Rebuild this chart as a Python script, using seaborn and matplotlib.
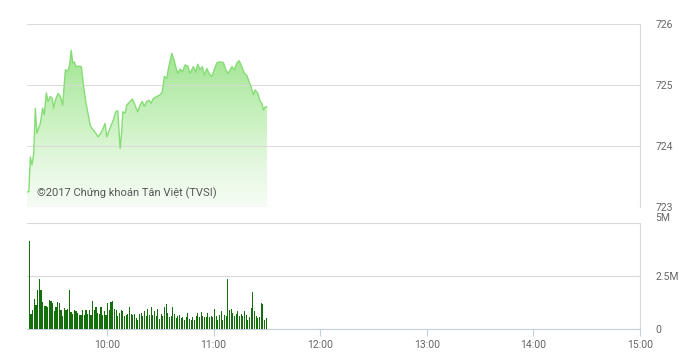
import numpy as np
import pandas as pd
import matplotlib
matplotlib.use("Agg")
import matplotlib.pyplot as plt
import seaborn as sns
from matplotlib.colors import LinearSegmentedColormap

# ---------------- data ----------------
# price line: minutes after 09:15 and index value
price_minutes = [0, 1.0, 1.9, 2.8, 3.8, 4.7, 5.6, 7.5, 8.8, 9.7, 10.9, 11.8, 13.1, 14.1, 15.0,
                 15.9, 17.5, 18.8, 20.1, 21.6, 23.1, 24.0, 24.9, 25.7, 26.6, 27.6, 29.4, 30.6,
                 31.9, 33.2, 34.7, 35.6, 37.6, 38.9, 40.0, 41.3, 42.6, 43.9, 44.9, 46.7, 48.6,
                 49.9, 51.1, 52.4, 53.3, 53.9, 55.2, 56.1, 58.0, 59.3, 60.8, 62.3, 63.6, 64.9,
                 66.0, 67.4, 68.7, 69.8, 71.1, 73.0, 74.9, 76.2, 77.3, 78.7, 79.6, 81.5, 82.8,
                 83.7, 84.9, 86.1, 87.5, 89.0, 90.5, 91.8, 93.6, 95.0, 96.1, 97.4, 98.7, 99.8,
                 101.2, 102.5, 104.0, 105.5, 106.8, 108.1, 110.5, 111.9, 113.3, 115.3, 116.7,
                 118.1, 119.4, 120.9, 122.4, 123.7, 125.0, 126.1, 127.4, 128.4, 129.9, 131.2,
                 132.2, 133.1, 134.0, 135.1]
price_values = [723.25, 723.25, 723.82, 723.69, 723.88, 724.62, 724.21, 724.37, 724.62, 724.51,
                724.87, 724.73, 724.81, 724.79, 724.62, 724.75, 724.86, 724.81, 724.67, 725.25,
                725.23, 725.33, 725.57, 725.36, 725.38, 725.30, 725.31, 725.30, 724.97, 724.70,
                724.48, 724.33, 724.25, 724.20, 724.15, 724.20, 724.27, 724.37, 724.15, 724.29,
                724.43, 724.56, 724.58, 723.96, 724.23, 724.56, 724.54, 724.67, 724.73, 724.77,
                724.67, 724.56, 724.67, 724.73, 724.65, 724.73, 724.75, 724.70, 724.78, 724.81,
                724.84, 724.89, 725.14, 725.11, 725.27, 725.52, 725.41, 725.30, 725.19, 725.26,
                725.22, 725.33, 725.31, 725.19, 725.30, 725.21, 725.34, 725.25, 725.30, 725.16,
                725.27, 725.19, 725.14, 725.26, 725.36, 725.38, 725.37, 725.25, 725.19, 725.30,
                725.25, 725.36, 725.40, 725.30, 725.19, 725.16, 725.05, 724.97, 724.84, 724.92,
                724.86, 724.73, 724.70, 724.59, 724.64, 724.64]

# volume per bar (millions), in order from 09:16 to 11:30
volume_m = [4.13, 0.72, 0.88, 1.43, 1.15, 1.86, 2.36, 1.82, 1.26, 1.07, 1.10, 1.04, 1.38, 1.34,
            1.23, 0.83, 1.04, 1.26, 1.23, 0.91, 0.63, 0.99, 0.91, 0.94, 1.86, 0.79, 0.72, 0.91,
            0.83, 0.75, 0.68, 0.68, 0.88, 0.68, 0.88, 0.71, 0.91, 0.68, 1.31, 0.91, 1.04, 0.75,
            0.72, 1.04, 0.68, 0.83, 0.68, 1.23, 0.91, 1.26, 1.31, 0.94, 0.88, 0.60, 0.75, 0.88,
            0.83, 0.60, 0.68, 0.72, 1.04, 0.72, 0.68, 0.72, 0.52, 0.44, 0.72, 0.75, 0.63, 0.83,
            0.60, 0.94, 0.68, 1.04, 0.68, 0.83, 0.60, 0.94, 0.47, 0.72, 0.60, 1.04, 1.19, 0.75,
            0.57, 0.63, 1.04, 0.72, 0.52, 0.60, 0.68, 0.52, 0.57, 0.44, 0.57, 0.75, 0.47, 0.44,
            0.57, 0.44, 0.60, 0.75, 0.57, 0.79, 0.63, 0.57, 0.57, 0.75, 0.57, 0.63, 0.57, 0.94,
            0.63, 0.44, 0.68, 0.83, 0.44, 0.68, 0.63, 2.36, 0.91, 0.94, 0.75, 0.60, 0.72, 0.83,
            0.63, 0.72, 0.60, 0.83, 0.68, 0.44, 0.57, 0.99, 1.73, 0.83, 0.63, 0.52, 0.57, 1.23,
            1.19, 0.44, 0.52]

price_ticks = [723, 724, 725, 726]
price_tick_labels = ["723", "724", "725", "726"]
volume_ticks = [0, 2.5, 5]
volume_tick_labels = ["0", "2.5M", "5M"]
hour_ticks = [10, 11, 12, 13, 14, 15]
hour_tick_labels = ["10:00", "11:00", "12:00", "13:00", "14:00", "15:00"]
session_start_h = 9.25
session_end_h = 15.0
watermark = "©2017 Chứng khoán Tân Việt (TVSI)"

# ---------------- style ----------------
sns.set_theme(style="white")
plt.rcParams["font.family"] = ["Roboto", "DejaVu Sans"]

W, H = 696, 361
fig = plt.figure(figsize=(W / 100, H / 100), dpi=100)

def ax_rect(l, t, r, b):
    return [l / W, 1 - b / H, (r - l) / W, (b - t) / H]

ax1 = fig.add_axes(ax_rect(27, 24, 640, 207))
ax2 = fig.add_axes(ax_rect(27, 223, 640, 329))

grid_c = "#d9d9d9"
axis_c = "#c5d0dc"
text_c = "#666666"
line_c = "#86dd76"
bar_c = "#136e0c"

# ---------------- price panel ----------------
pdf = pd.DataFrame({"t": session_start_h + np.array(price_minutes) / 60.0,
                    "p": price_values})
sns.lineplot(data=pdf, x="t", y="p", ax=ax1, color=line_c, linewidth=1.0, zorder=4)
poly = ax1.fill_between(pdf["t"], pdf["p"], 723, color="none", linewidth=0)
cmap = LinearSegmentedColormap.from_list(
    "g", [(0.93, 0.98, 0.92, 0.5), (0.76, 0.94, 0.72, 0.8), (0.60, 0.89, 0.53, 0.95)])
grad = np.linspace(0, 1, 256).reshape(-1, 1)
img = ax1.imshow(grad, cmap=cmap, aspect="auto", origin="lower",
                 extent=[session_start_h, session_end_h, 723, 725.6], zorder=0.3)
img.set_clip_path(poly.get_paths()[0], transform=ax1.transData)

ax1.set_xlim(session_start_h, session_end_h)
ax1.set_ylim(723, 726)
ax1.set_yticks(price_ticks)
ax1.set_yticklabels(price_tick_labels)
ax1.yaxis.tick_right()
ax1.tick_params(axis="y", length=0, pad=11, labelsize=7.5, labelcolor=text_c)
ax1.set_xticks(hour_ticks)
ax1.tick_params(axis="x", length=0, labelbottom=False)
ax1.grid(axis="y", color=grid_c, linewidth=0.8, alpha=0.9)
ax1.grid(axis="x", visible=False)
ax1.set_axisbelow(True)
for s in ["left", "top", "bottom"]:
    ax1.spines[s].set_visible(False)
ax1.spines["right"].set_color(grid_c)
ax1.spines["right"].set_linewidth(0.8)
ax1.set_xlabel("")
ax1.set_ylabel("")
ax1.annotate(watermark, xy=(0.016, 0.045), xycoords="axes fraction", fontsize=8,
             color="#555555", ha="left", va="bottom", zorder=6)

# ---------------- volume panel ----------------
n = len(volume_m)
bar_t = np.linspace(session_start_h + 1.3 / 60, session_start_h + 134.6 / 60, n)
vdf = pd.DataFrame({"t": bar_t, "v": volume_m})
sns.barplot(data=vdf, x="t", y="v", ax=ax2, native_scale=True, color=bar_c,
            saturation=1, width=0.65, linewidth=0, zorder=3)
for p in ax2.patches:
    p.set_antialiased(False)
ax2.set_xlim(session_start_h, session_end_h)
ax2.set_ylim(0, 5)
ax2.set_yticks(volume_ticks)
ax2.set_yticklabels(volume_tick_labels)
ax2.yaxis.tick_right()
ax2.tick_params(axis="y", length=0, pad=11, labelsize=7.5, labelcolor=text_c)
for lab in ax2.get_yticklabels():
    if lab.get_text() == "5M":
        lab.set_va("bottom")
ax2.set_xticks(hour_ticks)
ax2.set_xticklabels(hour_tick_labels)
ax2.tick_params(axis="x", length=5, width=0.8, color=axis_c, pad=3,
                labelsize=7.5, labelcolor=text_c, bottom=True)
ax2.grid(axis="y", color=grid_c, linewidth=0.8)
ax2.grid(axis="x", visible=False)
ax2.set_axisbelow(True)
for s in ["left", "top"]:
    ax2.spines[s].set_visible(False)
ax2.spines["right"].set_color(grid_c)
ax2.spines["right"].set_linewidth(0.8)
ax2.spines["bottom"].set_color(axis_c)
ax2.spines["bottom"].set_linewidth(0.8)
ax2.set_xlabel("")
ax2.set_ylabel("")

fig.savefig("out.png", dpi=100, facecolor="white")
